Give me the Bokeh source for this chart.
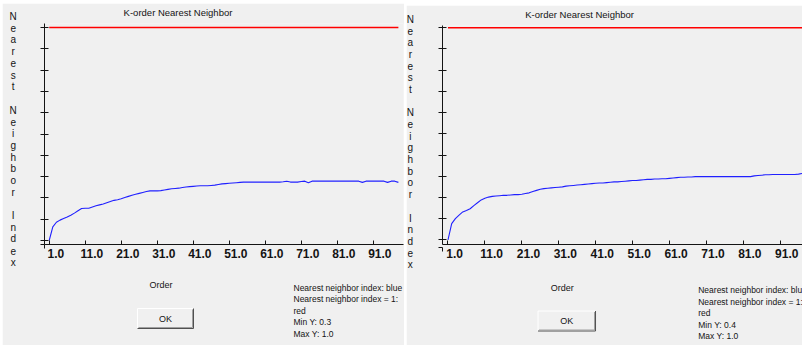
from bokeh.plotting import figure
from bokeh.models import Label, FixedTicker, Range1d, GridBox
from bokeh.layouts import row
from bokeh.embed import file_html
from bokeh.resources import INLINE

# ---------------- data ----------------
title_text = "K-order Nearest Neighbor"
x_axis_title = "Order"
y_axis_title = "Nearest Neighbor Index"
ok_text = "OK"

x_tick_values = [1, 11, 21, 31, 41, 51, 61, 71, 81, 91]
x_tick_labels = ["1.0", "11.0", "21.0", "31.0", "41.0", "51.0", "61.0", "71.0", "81.0", "91.0"]

left_order = list(range(1, 99))
left_nni = [0.300, 0.345, 0.360, 0.367, 0.372, 0.377, 0.383, 0.390, 0.398, 0.405,
            0.406, 0.406, 0.410, 0.414, 0.417, 0.420, 0.424, 0.428, 0.432, 0.434,
            0.437, 0.441, 0.445, 0.449, 0.452, 0.455, 0.458, 0.461, 0.463, 0.463,
            0.463, 0.464, 0.466, 0.468, 0.470, 0.471, 0.472, 0.474, 0.476, 0.477,
            0.478, 0.479, 0.480, 0.480, 0.480, 0.481, 0.482, 0.484, 0.486, 0.487,
            0.488, 0.489, 0.490, 0.491, 0.492, 0.492, 0.492, 0.492, 0.492, 0.492,
            0.492, 0.492, 0.492, 0.492, 0.492, 0.493, 0.495, 0.492, 0.492, 0.492,
            0.494, 0.495, 0.490, 0.495, 0.495, 0.495, 0.495, 0.495, 0.495, 0.495,
            0.495, 0.495, 0.495, 0.495, 0.495, 0.495, 0.495, 0.491, 0.495, 0.495,
            0.495, 0.495, 0.495, 0.495, 0.491, 0.495, 0.495, 0.491]
left_ref_x = [1, 98]
left_ref_y = [1.0, 1.0]
left_y_ticks = [0.30, 0.37, 0.44, 0.51, 0.58, 0.65, 0.72, 0.79, 0.86, 0.93, 1.00]
left_legend = ["Nearest neighbor index: blue", "Nearest neighbor index = 1:",
               "red", "Min Y:  0.3", "Max Y:  1.0"]

right_order = list(range(1, 100))
right_nni = [0.400, 0.446, 0.460, 0.470, 0.479, 0.483, 0.488, 0.497, 0.505, 0.513,
             0.518, 0.521, 0.523, 0.524, 0.525, 0.526, 0.526, 0.527, 0.528, 0.528,
             0.529, 0.531, 0.533, 0.537, 0.540, 0.543, 0.545, 0.546, 0.547, 0.548,
             0.549, 0.550, 0.552, 0.553, 0.554, 0.555, 0.556, 0.557, 0.558, 0.559,
             0.560, 0.561, 0.561, 0.562, 0.563, 0.564, 0.564, 0.565, 0.566, 0.567,
             0.568, 0.568, 0.569, 0.570, 0.571, 0.571, 0.572, 0.572, 0.573, 0.573,
             0.574, 0.575, 0.576, 0.577, 0.577, 0.578, 0.578, 0.579, 0.579, 0.579,
             0.579, 0.579, 0.579, 0.579, 0.579, 0.579, 0.579, 0.579, 0.579, 0.579,
             0.579, 0.579, 0.579, 0.581, 0.582, 0.583, 0.584, 0.584, 0.585, 0.585,
             0.585, 0.585, 0.585, 0.585, 0.585, 0.586, 0.588, 0.588, 0.589]
right_ref_x = [1, 99]
right_ref_y = [1.0, 1.0]
right_y_ticks = [0.40, 0.46, 0.52, 0.58, 0.64, 0.70, 0.76, 0.82, 0.88, 0.94, 1.00]
right_legend = ["Nearest neighbor index: blue", "Nearest neighbor index = 1:",
                "red", "Min Y:  0.4", "Max Y:  1.0"]

# ---------------- style ----------------
FONT = "Liberation Sans"
BG = "#f0f0f0"
INK = "#141414"
RED = "#ff0000"
BLUE = "#2020ff"
NBSP = "\u00a0" * 4   # nudges the centred tick labels to the right of their ticks


def make_panel(order, nni, ref_x, ref_y, y_ticks, geo):
    p = figure(width=geo["w"], height=geo["h"], output_backend="svg", toolbar_location=None,
               x_range=Range1d(*geo["xr"]), y_range=Range1d(*geo["yr"]),
               min_border_left=geo["bl"], min_border_right=geo["br"],
               min_border_top=geo["bt"], min_border_bottom=geo["bb"],
               background_fill_color=BG, border_fill_color=BG, outline_line_color=None)
    p.margin = geo["margin"]
    p.grid.visible = False

    p.line(order, nni, line_color=BLUE, line_width=1.1)
    p.line(ref_x, ref_y, line_color=RED, line_width=1.3, line_alpha=1.0)

    xa = p.xaxis[0]
    xa.ticker = FixedTicker(ticks=x_tick_values)
    xa.major_label_overrides = {v: NBSP + s for v, s in zip(x_tick_values, x_tick_labels)}
    xa.major_tick_in = 4
    xa.major_tick_out = 0
    xa.minor_tick_in = 0
    xa.minor_tick_out = 0
    xa.major_tick_line_color = INK
    xa.axis_line_color = INK
    xa.major_label_text_font = FONT
    xa.major_label_text_font_style = "bold"
    xa.major_label_text_font_size = "12px"
    xa.major_label_text_color = INK
    xa.major_label_standoff = 2

    ya = p.yaxis[0]
    ya.ticker = FixedTicker(ticks=y_ticks)
    ya.major_label_overrides = {t: "" for t in y_ticks}
    ya.major_tick_in = 4
    ya.major_tick_out = 4
    ya.minor_tick_in = 0
    ya.minor_tick_out = 0
    ya.major_tick_line_color = INK
    ya.axis_line_color = INK
    ya.major_label_standoff = 0
    return p


left_geo = dict(w=402, h=342, margin=(3, 0, 0, 2), bl=42, br=1, bt=20, bb=101,
                xr=(-0.306, 99.42), yr=(0.2869, 1.0131))
right_geo = dict(w=396, h=340, margin=(5, 0, 0, 2), bl=36, br=0, bt=20, bb=98,
                 xr=(-0.49, 97.07), yr=(0.3869, 1.0064))

left = make_panel(left_order, left_nni, left_ref_x, left_ref_y, left_y_ticks, left_geo)
right = make_panel(right_order, right_nni, right_ref_x, right_ref_y, right_y_ticks, right_geo)
panels = row(left, right, spacing=0)

# ---------------- dialog texts (transparent overlay, page pixel coordinates) ----------------
ov = figure(width=802, height=345, output_backend="svg", toolbar_location=None,
            x_range=Range1d(0, 802), y_range=Range1d(345, 0),
            x_axis_type=None, y_axis_type=None, min_border=0,
            background_fill_alpha=0, border_fill_alpha=0, outline_line_color=None)
ov.grid.visible = False

dialogs = [
    dict(ax=44, ay=244, stretch=1.0, dy=0.0, legend=left_legend),
    dict(ax=442, ay=247, stretch=1.027, dy=2.5, legend=right_legend),
]


def put(ov, d, text, x, y, size, align="left", style="normal"):
    px = d["ax"] + (x - 44) * d["stretch"]
    py = y + d["dy"]
    ov.add_layout(Label(text=text, x=px, y=py, text_font=FONT, text_font_size=size,
                        text_font_style=style, text_color=INK,
                        text_align=align, text_baseline="middle"))


for d in dialogs:
    s = d["stretch"]
    put(ov, d, title_text, 177.5, 11.5, "9.5px", align="center")
    for i, ch in enumerate(y_axis_title):
        if ch.strip():
            put(ov, d, ch, 12.7, 16 + i * 11.71, "10px", align="center")
    put(ov, d, x_axis_title, 160.5, 284.5, "9px", align="center")
    for j, line in enumerate(d["legend"]):
        put(ov, d, line, 293, 287 + j * 11.5, "8.5px")

    # OK button
    bx0 = d["ax"] + (137 - 44) * s
    bx1 = d["ax"] + (193 - 44) * s
    by0 = 308 + d["dy"]
    by1 = 328 + d["dy"]
    ov.quad(left=[bx0], right=[bx1], top=[by0], bottom=[by1], fill_color=BG, line_color=None)
    ov.segment(x0=[bx0, bx0, bx0, bx1, bx0 + 1, bx1 - 1],
               y0=[by0, by0, by1, by0, by1 - 1, by0 + 1],
               x1=[bx1, bx0, bx1, bx1, bx1 - 1, bx1 - 1],
               y1=[by0, by1, by1, by1, by1 - 1, by1 - 1],
               line_color=["#ffffff", "#ffffff", "#505050", "#505050", "#a0a0a0", "#a0a0a0"],
               line_width=1)
    put(ov, d, ok_text, 165, 318, "9px", align="center")

    # axis stubs that reach past the origin
    ov.segment(x0=[d["ax"] - 4, d["ax"]], y0=[d["ay"], d["ay"]],
               x1=[d["ax"], d["ax"]], y1=[d["ay"], d["ay"] + 4],
               line_color=INK, line_width=1)

layout = GridBox(children=[(panels, 0, 0), (ov, 0, 0)])
open("out.html", "w").write(file_html(layout, INLINE))
